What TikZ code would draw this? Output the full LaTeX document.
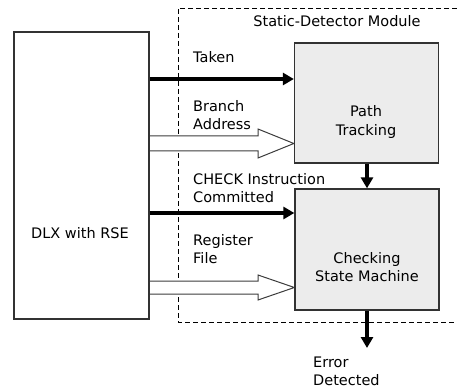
\documentclass[tikz,border=0pt]{standalone}
\usepackage{fontspec}
\setmainfont{DejaVu Sans}
\usetikzlibrary{arrows.meta,calc,backgrounds}
\definecolor{boxgray}{RGB}{236,236,236}
\definecolor{edgegray}{RGB}{50,50,50}
\definecolor{hollowgray}{RGB}{60,60,60}
\begin{document}
\begin{tikzpicture}[x=1pt,y=-1pt,
  txt/.style={font=\fontsize{14.5}{18}\selectfont, inner sep=0pt},
  lbl/.style={txt, align=left, anchor=west},
  blk/.style={draw=edgegray, line width=1.3pt, fill=boxgray, minimum width=144pt, minimum height=120pt, inner sep=0pt},
  dlxbox/.style={draw=edgegray, line width=1.3pt, minimum width=135pt, minimum height=287pt, inner sep=0pt},
  thickarrow/.style={line width=3.6pt, -{Triangle[length=11pt,width=12pt]}},
  hollow/.style={draw=hollowgray, line width=1pt, fill=white, line join=miter},
  frame/.style={dash pattern=on 5pt off 3pt, line width=0.8pt}]
\useasboundingbox (0,0) rectangle (457,390);

% blocks
\node[dlxbox] (dlx) at (81.5,175.5) {};
\node[blk] (pt) at (366.5,103) {};
\node[blk, minimum height=121pt] (cs) at (367,249.5) {};

% texts
\node[txt] (dlxt) at (80,233) {DLX with RSE};
\node[txt, align=center] (ptt) at (366,122) {Path\\Tracking};
\node[txt, align=center] (cst) at (367,267) {Checking\\State Machine};
\node[txt] (title) at (337,21) {Static-Detector Module};
\node[lbl] (ltaken) at (193,57) {Taken};
\node[lbl] (lbranch) at (193,115) {Branch\\Address};
\node[lbl] (lcheck) at (193,188) {CHECK Instruction\\Committed};
\node[lbl] (lreg) at (193,249) {Register\\File};
\node[lbl] (lerr) at (313,371) {Error\\Detected};

\coordinate (errend) at (367,348);

% thick arrows
\draw[thickarrow] (dlx.east |- 0,79) -- (pt.west |- 0,79);
\draw[thickarrow] (dlx.east |- 0,213) -- (cs.west |- 0,213);
\draw[thickarrow] (pt.south -| 367,0) -- (cs.north -| 367,0);
\draw[thickarrow] (cs.south) -- (errend);

\begin{scope}[on background layer]
  \draw[frame] (457,8) -- (178,8) -- (178,322) -- (457,322);
  % hollow arrows
  \draw[hollow] (dlx.east |- 0,136) -- (258,136) -- (258,129) -- (pt.west |- 0,143.5)
     -- (258,158) -- (258,151) -- (dlx.east |- 0,151);
  \draw[hollow] (dlx.east |- 0,281) -- (258,281) -- (258,275) -- (cs.west |- 0,287.5)
     -- (258,300) -- (258,294) -- (dlx.east |- 0,294);
\end{scope}
\end{tikzpicture}
\end{document}
